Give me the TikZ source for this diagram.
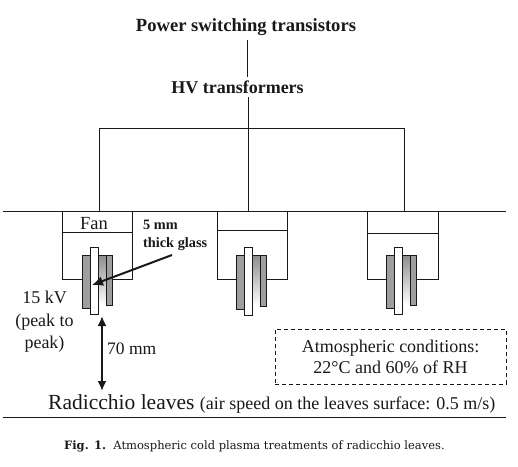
\documentclass[tikz,border=0pt]{standalone}
\usepackage{fontspec}
\setmainfont{Liberation Serif}
\newfontfamily\capfont{DejaVu Serif}
\usetikzlibrary{arrows.meta}
\newcommand{\electrode}[2]{%
  \fill[top color=platemid,bottom color=white] (#1+16,255) rectangle (#1+24,#2-3);
  \draw[thick line,fill=plate] (#1,255) rectangle (#1+8,#2);
  \draw[thick line,fill=plate] (#1+24,255) rectangle (#1+30,#2-3);
  \draw[thick line] (#1+16,255) -- (#1+24,255);
  \draw[thick line,fill=white] (#1+8,247) rectangle (#1+16,#2+6);
}
\definecolor{plate}{gray}{0.62}
\definecolor{platemid}{gray}{0.55}
\definecolor{ink}{gray}{0.1}
\tikzset{
  x=1pt,y=-1pt,
  thin line/.style={line width=0.9pt,draw=ink},
  thick line/.style={line width=0.9pt,draw=ink},
  arrow line/.style={line width=2pt,draw=ink,{Latex[length=10pt,width=9pt]}-{Latex[length=10pt,width=9pt]}},
  single arrow line/.style={line width=2pt,draw=ink,-{Latex[length=11pt,width=10pt]}},
}
\begin{document}
\begin{tikzpicture}
\useasboundingbox (0,0) rectangle (518,466);
\fill[white] (0,0) rectangle (518,466);

\node[inner sep=0pt,text=ink,font=\fontsize{18.6}{18.6}\selectfont\bfseries] (pst) at (246,27) {Power switching transistors};
\node[inner sep=0pt,text=ink,font=\fontsize{18}{18}\selectfont\bfseries] (hv) at (237.5,87) {HV transformers};
\coordinate (busc) at (248,128);
\coordinate (busl) at (99,128);
\coordinate (busr) at (404,128);
\coordinate (dropl) at (99,211);
\coordinate (dropc) at (248,211);
\coordinate (dropr) at (404,211);
\coordinate (roofa) at (3,211);
\coordinate (roofb) at (506,211);
\coordinate (floora) at (3,417);
\coordinate (floorb) at (506,417);

\draw[thin line] (247,40) -- (247,77);
\draw[thin line] (248,97) -- (busc);
\draw[thin line] (dropl) -- (busl) -- (busr) -- (dropr);
\draw[thin line] (busc) -- (dropc);
\draw[thin line] (roofa) -- (roofb);
\draw[thin line] (floora) -- (floorb);

% housings
\draw[thin line] (62,211) rectangle (132,279);
\draw[thin line] (62,232) -- (132,232);
\draw[thin line] (217,211) rectangle (287,279);
\draw[thin line] (217,230) -- (287,230);
\draw[thin line] (367,211) rectangle (438,279);
\draw[thin line] (367,233) -- (438,233);

\electrode{82}{308}
\electrode{236}{309}
\electrode{386}{308}

\node[inner sep=0pt,text=ink,font=\fontsize{18.5}{18.5}\selectfont] (fan) at (94,224) {Fan};
\node[inner sep=0pt,text=ink,font=\fontsize{14.3}{18}\selectfont\bfseries,align=left,anchor=north west] (glass) at (143,220) {5 mm\\thick glass};
\coordinate (glasstip) at (92,285);
\draw[single arrow line] (172,255) -- (glasstip);

\node[inner sep=0pt,text=ink,font=\fontsize{18}{22.5}\selectfont,align=center] (kv) at (44.5,322) {15 kV\\(peak to\\peak)};
\coordinate (gaptop) at (102,316);
\coordinate (gapbot) at (102,391);
\draw[arrow line] (gaptop) -- (gapbot);
\node[inner sep=0pt,text=ink,font=\fontsize{17.5}{17.5}\selectfont,anchor=west] (gap) at (107,349) {70 mm};

\node[draw=ink,dash pattern=on 4pt off 3pt,line width=0.8pt,minimum width=231pt,minimum height=55pt,inner sep=0pt,text=ink,font=\fontsize{18}{21}\selectfont,align=center] (atm) at (390.5,356.5) {Atmospheric conditions:\\22°C and 60\% of RH};

\node[inner sep=0pt,text=ink,anchor=base west,font=\fontsize{21.5}{21.5}\selectfont] (rad) at (48,409) {Radicchio leaves \fontsize{18}{18}\selectfont(air speed on the leaves surface: 0.5 m/s)};

\node[inner sep=0pt,text=ink,anchor=base west,font=\capfont\fontsize{11.5}{11.5}\selectfont] (cap) at (64,449) {\textbf{Fig. 1.}\ \ Atmospheric cold plasma treatments of radicchio leaves.};
\end{tikzpicture}
\end{document}
